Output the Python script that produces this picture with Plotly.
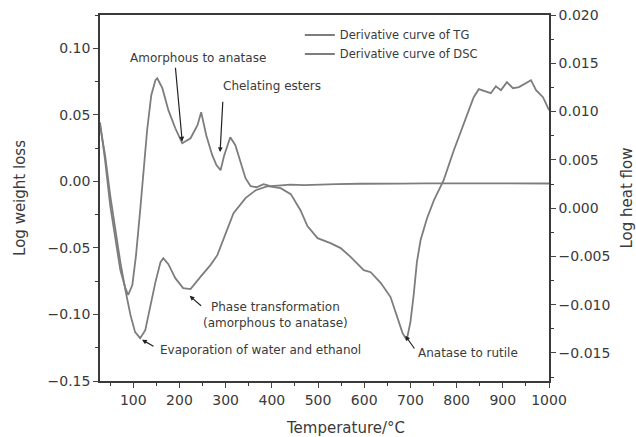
import plotly.graph_objects as go

# Derivative of TG (left axis, log weight loss)
tg_temp = [28, 39, 50, 61, 72, 83, 89, 98, 106, 115, 122, 130, 139, 148, 152,
           163, 176, 191, 206, 224, 239, 247, 258, 271, 280, 289, 297, 310, 321,
           332, 343, 354, 367, 382, 397, 420, 440, 470, 505, 540, 590, 630, 680,
           730, 790, 840, 900, 950, 1000]
tg_value = [0.0444, 0.0159, -0.0179, -0.0441, -0.0667, -0.0802, -0.0854, -0.0779,
            -0.0554, -0.0216, 0.0047, 0.0384, 0.0647, 0.0760, 0.0775, 0.0700,
            0.0535, 0.0399, 0.0287, 0.0324, 0.0422, 0.0520, 0.0347, 0.0197,
            0.0122, 0.0084, 0.0197, 0.0332, 0.0272, 0.0144, 0.0024, -0.0036,
            -0.0044, -0.0021, -0.0036, -0.0030, -0.0025, -0.0028, -0.0022,
            -0.0020, -0.0018, -0.0020, -0.0017, -0.0015, -0.0016, -0.0014,
            -0.0016, -0.0015, -0.0016]

# Derivative of DSC (right axis, log heat flow)
dsc_temp = [28, 39, 50, 61, 72, 83, 94, 104, 115, 126, 137, 148, 159, 165, 176,
            191, 208, 224, 245, 267, 282, 300, 317, 343, 365, 391, 419, 441, 462,
            477, 499, 527, 549, 571, 599, 614, 636, 657, 664, 675, 683, 692, 700,
            707, 714, 722, 736, 751, 772, 794, 816, 837, 848, 863, 874, 885, 896,
            909, 922, 935, 950, 961, 972, 987, 1000]
dsc_value = [0.00859, 0.00549, 0.00135, -0.00228, -0.00559, -0.00849, -0.01108,
             -0.01284, -0.01346, -0.01263, -0.01004, -0.00766, -0.00559, -0.00518,
             -0.00580, -0.00725, -0.00828, -0.00839, -0.00714, -0.00590, -0.00487,
             -0.00259, -0.00052, 0.00104, 0.00186, 0.00228, 0.00207, 0.00145,
             -0.00021, -0.00186, -0.00311, -0.00362, -0.00414, -0.00507, -0.00642,
             -0.00663, -0.00776, -0.00921, -0.01025, -0.01190, -0.01294, -0.01366,
             -0.01180, -0.00900, -0.00560, -0.00330, -0.00104, 0.00083, 0.00290,
             0.00600, 0.00880, 0.01149, 0.01232, 0.01211, 0.01190, 0.01263,
             0.01222, 0.01304, 0.01242, 0.01253, 0.01294, 0.01325, 0.01222,
             0.01149, 0.01014]

x_ticks = [100, 200, 300, 400, 500, 600, 700, 800, 900, 1000]

FONT = "DejaVu Sans"
INK = "#3a3a3a"
CURVE = "#7d7d7d"

fig = go.Figure()
fig.add_trace(go.Scatter(x=tg_temp, y=tg_value, mode="lines",
                         name="Derivative curve of TG",
                         line=dict(color=CURVE, width=1.8)))
fig.add_trace(go.Scatter(x=dsc_temp, y=dsc_value, mode="lines",
                         name="Derivative curve of DSC", yaxis="y2",
                         line=dict(color=CURVE, width=1.8)))

# (arrow head T, head y, tail T, tail y) in left-axis units
arrows = [
    (206, 0.0300, 191, 0.0865),
    (288, 0.0220, 294, 0.0610),
    (222, -0.0860, 250, -0.0944),
    (119, -0.1190, 147, -0.1245),
    (689, -0.1160, 711, -0.1267),
]
labels = [
    ("Amorphous to anatase", 241, 0.0925, "center"),
    ("Chelating esters", 289, 0.0715, "left"),
    ("Phase transformation<br>(amorphous to anatase)", 408, -0.1005, "center"),
    ("Evaporation of water and ethanol", 153, -0.1267, "left"),
    ("Anatase to rutile", 713, -0.1290, "left"),
]

annotations = []
for hx, hy, tx, ty in arrows:
    annotations.append(dict(x=hx, y=hy, ax=tx, ay=ty, xref="x", yref="y",
                            axref="x", ayref="y", text="", showarrow=True,
                            arrowhead=2, arrowsize=0.8, arrowwidth=1.2,
                            arrowcolor="#222"))
for text, tx, ty, anchor in labels:
    annotations.append(dict(x=tx, y=ty, xref="x", yref="y", text=text,
                            showarrow=False, xanchor=anchor, yanchor="middle",
                            align="center", font=dict(size=12, color=INK)))
annotations.append(dict(x=0.546, y=-0.128, xref="paper", yref="paper",
                        text="Temperature/°C", showarrow=False,
                        xanchor="center", yanchor="middle",
                        font=dict(size=15, color=INK)))

fig.update_layout(
    width=636, height=437,
    margin=dict(l=100, r=87, t=15, b=56, autoexpand=False),
    paper_bgcolor="white", plot_bgcolor="white",
    font=dict(family=FONT, color=INK),
    showlegend=True,
    legend=dict(x=0.445, y=0.985, xanchor="left", yanchor="top",
                bgcolor="rgba(0,0,0,0)", font=dict(size=11.5, color=INK),
                itemwidth=30, tracegroupgap=0),
    annotations=annotations,
    xaxis=dict(range=[28, 1000], tickvals=x_ticks, ticks="outside", ticklen=5,
               showline=True, linecolor=INK, linewidth=2, mirror=True,
               showgrid=False, zeroline=False, tickfont=dict(size=14),
               automargin=False,
               minor=dict(dtick=50, tick0=0, ticks="outside", ticklen=3,
                          tickcolor=INK),
               title=dict(text="")),
    yaxis=dict(range=[-0.15, 0.125], dtick=0.05, tick0=0, tickformat=".2f",
               ticks="outside", ticklen=5, showline=True, linecolor=INK,
               linewidth=1.5, showgrid=False, zeroline=False,
               tickfont=dict(size=14), automargin=False,
               minor=dict(dtick=0.025, tick0=0, ticks="outside", ticklen=3,
                          tickcolor=INK),
               title=dict(text="Log weight loss", font=dict(size=15),
                          standoff=18)),
    yaxis2=dict(range=[-0.0179, 0.020], dtick=0.005, tick0=0, tickformat=".3f",
                overlaying="y", side="right", ticks="outside", ticklen=5,
                showline=True, linecolor=INK, linewidth=1.5, showgrid=False,
                zeroline=False, tickfont=dict(size=14), automargin=False,
                minor=dict(dtick=0.0025, tick0=0, ticks="outside", ticklen=3,
                           tickcolor=INK),
                title=dict(text="Log heat flow", font=dict(size=15),
                           standoff=14)),
)

fig.write_html("out.html")
